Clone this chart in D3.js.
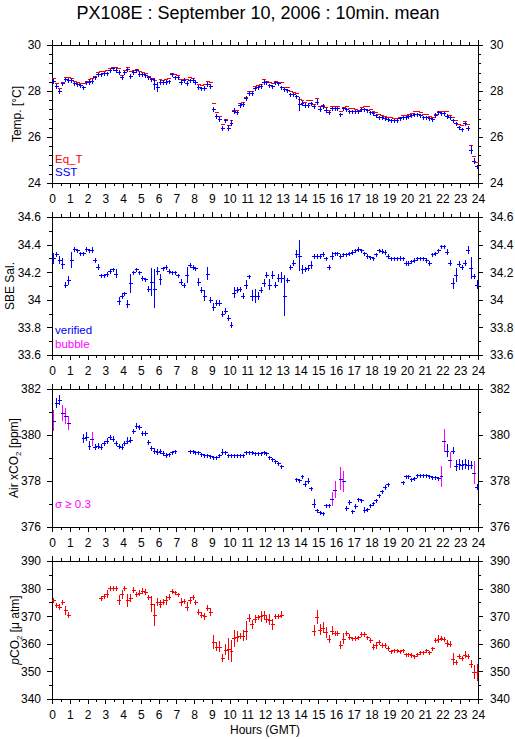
<!DOCTYPE html>
<html>
<head>
<meta charset="utf-8">
<script src="https://cdn.jsdelivr.net/npm/d3@7"></script>
<style>
  body { margin: 0; background: #fff; }
  svg { display: block; }
</style>
</head>
<body>
<div id="chart"></div>
<script>
// 10-minute means, one value per slot (144 slots per day), null = no data
const hourTicks = [0,1,2,3,4,5,6,7,8,9,10,11,12,13,14,15,16,17,18,19,20,21,22,23,24];

const sst = [
  28.45,28.22,28.02,28.34,28.51,28.48,
  28.48,28.34,28.30,28.25,28.16,28.37,
  28.40,28.45,28.60,28.72,28.75,28.77,
  28.80,28.90,28.99,28.93,28.84,28.60,
  28.82,28.95,28.65,28.84,28.90,28.76,
  28.72,28.68,28.60,28.52,28.30,28.18,
  28.40,28.38,28.40,28.42,28.72,28.60,
  28.60,28.38,28.50,28.35,28.48,28.50,
  28.40,28.18,28.12,28.15,28.32,28.20,
  27.22,26.92,26.78,26.39,26.72,26.39,
  26.63,27.15,27.07,27.40,27.44,27.69,
  27.90,27.90,28.12,28.16,28.22,28.41,
  28.37,28.27,28.22,28.38,28.34,28.16,
  28.09,28.05,27.86,27.88,27.79,27.45,
  27.50,27.40,27.40,27.47,27.33,27.54,
  27.22,27.35,27.18,27.07,27.25,27.25,
  27.25,27.00,27.25,27.22,27.15,27.15,
  27.14,27.11,27.21,27.21,27.18,27.10,
  27.04,26.96,26.89,26.85,26.82,26.78,
  26.75,26.72,26.72,26.82,26.86,26.89,
  26.92,26.96,27.00,27.00,26.95,26.89,
  26.89,26.82,26.78,26.96,27.07,27.04,
  27.04,26.92,26.86,26.72,26.60,26.43,
  26.34,26.60,26.39,25.45,24.97,24.72
];
const sstErr = [
  .08,.07,.06,.05,.06,.08,  .08,.05,.05,.05,.05,.08,
  .08,.06,.05,.04,.04,.04,  .04,.04,.04,.05,.06,.08,
  .05,.06,.10,.07,.05,.05,  .05,.05,.06,.06,.25,.22,
  .06,.08,.06,.06,.05,.05,  .05,.08,.05,.08,.06,.05,
  .06,.06,.05,.08,.06,.10,  .10,.08,.08,.10,.08,.12,
  .10,.10,.08,.08,.08,.10,  .10,.08,.06,.06,.08,.05,
  .05,.04,.04,.06,.06,.05,  .05,.04,.05,.04,.04,.30,
  .08,.08,.08,.06,.08,.10,  .08,.08,.06,.06,.06,.06,
  .05,.04,.06,.05,.04,.04,  .04,.03,.04,.04,.04,.04,
  .04,.04,.04,.04,.04,.04,  .04,.04,.04,.04,.04,.04,
  .04,.03,.03,.03,.03,.04,  .04,.04,.04,.08,.04,.04,
  .04,.08,.06,.06,.06,.06,  .04,.03,.10,.20,.10,.05
];
const eqT = [
  28.55,28.34,28.12,28.38,28.63,28.60,
  28.57,28.45,28.41,28.36,28.34,28.45,
  28.51,28.57,28.66,28.83,28.86,28.89,
  28.92,28.98,29.06,29.03,29.02,28.70,
  28.92,29.06,28.86,28.92,28.96,28.86,
  28.83,28.77,28.66,28.55,28.48,28.19,
  28.51,28.48,28.51,28.55,28.80,28.74,
  28.70,28.54,28.54,28.51,28.63,28.55,
  28.41,28.31,28.27,28.31,28.45,28.38,
  27.47,27.07,26.92,26.56,26.78,26.53,
  26.72,27.18,27.18,27.50,27.54,27.76,
  28.00,27.98,28.22,28.27,28.29,28.51,
  28.45,28.37,28.34,28.45,28.41,28.37,
  28.19,28.19,28.02,27.95,27.90,27.64,
  27.59,27.54,27.59,27.62,27.44,27.69,
  27.35,27.40,27.30,27.18,27.35,27.35,
  27.35,27.15,27.30,27.35,27.25,27.25,
  27.21,27.18,27.30,27.33,27.33,27.20,
  27.15,27.08,27.00,26.96,26.92,26.88,
  26.86,26.82,26.82,26.89,26.94,26.96,
  27.00,27.04,27.11,27.12,27.07,26.98,
  26.98,26.92,26.89,27.00,27.15,27.15,
  27.15,27.11,26.96,26.86,26.72,26.57,
  26.53,26.68,26.56,25.66,25.16,24.90
];

const sal = [
  34.30,34.335,34.29,34.26,34.11,34.14,
  34.29,34.37,34.36,34.34,34.34,34.37,
  34.36,34.36,34.29,34.24,34.18,34.18,
  34.19,34.21,34.22,34.19,33.99,34.03,
  34.05,33.97,34.12,34.20,34.22,34.20,
  34.16,34.15,34.08,34.13,34.08,34.21,
  34.15,34.23,34.24,34.21,34.20,34.20,
  34.18,34.13,34.11,34.18,34.25,34.24,
  34.23,34.13,34.07,34.03,34.19,34.00,
  33.95,33.98,33.98,33.90,33.92,33.87,
  33.82,34.05,34.07,34.08,34.03,34.11,
  34.17,34.03,34.03,34.03,34.07,34.12,
  34.18,34.11,34.18,34.11,34.16,34.16,
  34.03,34.14,34.24,34.27,34.33,34.32,
  34.22,34.22,34.23,34.25,34.32,34.32,
  34.32,34.33,34.30,34.24,34.32,34.34,
  34.34,34.32,34.33,34.33,34.34,34.35,
  34.36,34.37,34.36,34.34,34.32,34.31,
  34.30,34.33,34.36,34.355,34.35,34.32,
  34.30,34.30,34.30,34.305,34.30,34.27,
  34.27,34.28,34.29,34.30,34.30,34.30,
  34.29,34.27,34.33,34.34,34.36,34.39,
  34.39,34.35,34.27,34.12,34.18,34.26,
  34.24,34.27,34.36,34.23,34.17,34.11
];
const salErr = [
  .04,.01,.03,.04,.02,.03,  .06,.01,.01,.01,.01,.01,
  .01,.02,.01,.02,.01,.01,  .01,.01,.01,.03,.03,.02,
  .01,.03,.07,.01,.01,.01,  .01,.01,.02,.10,.14,.03,
  .04,.01,.01,.01,.01,.01,  .01,.02,.01,.06,.02,.01,
  .01,.03,.02,.04,.05,.02,  .03,.02,.02,.02,.02,.02,
  .02,.04,.02,.01,.02,.03,  .01,.04,.05,.03,.02,.03,
  .02,.04,.03,.02,.03,.04,  .15,.02,.01,.02,.03,.11,
  .03,.02,.02,.03,.01,.01,  .01,.02,.01,.01,.03,.01,
  .01,.01,.01,.01,.01,.01,  .01,.01,.01,.01,.01,.01,
  .01,.01,.01,.01,.01,.01,  .01,.01,.01,.01,.01,.01,
  .01,.01,.01,.01,.01,.01,  .01,.01,.01,.01,.01,.01,
  .01,.02,.02,.04,.05,.02,  .01,.02,.03,.08,.02,.03
];

const xco2 = [
  380.62,381.39,381.52,380.96,380.84,380.51,
  null,null,null,null,379.86,379.93,
  379.54,379.83,379.50,379.54,379.50,379.64,
  379.76,379.90,379.83,379.64,379.54,379.50,
  379.64,379.76,379.80,380.16,380.41,380.34,
  380.08,380.08,379.71,379.44,379.32,379.28,
  379.32,379.21,379.15,379.18,379.25,379.32,
  null,null,null,null,379.30,379.30,
  379.25,379.25,379.18,379.14,379.11,379.08,
  379.06,379.06,379.11,379.28,379.25,379.15,
  379.15,379.15,379.15,379.15,379.15,379.25,
  379.25,379.25,379.22,379.21,379.21,379.25,
  379.22,379.03,378.96,378.89,378.77,378.67,
  null,null,null,null,378.10,378.05,
  378.20,377.88,378.02,377.69,377.01,376.72,
  376.65,376.62,376.94,376.97,377.23,377.63,
  null,378.10,377.98,376.82,377.08,376.69,
  376.90,377.23,377.18,376.75,376.79,376.94,
  377.04,377.16,377.37,377.56,377.76,377.88,
  null,null,null,null,377.95,378.20,
  378.21,378.10,378.12,378.24,378.24,378.24,
  378.24,378.21,378.17,378.17,378.14,378.20,
  379.76,379.32,378.92,379.32,378.67,378.72,
  378.70,378.74,378.70,378.70,378.36,377.73
];
const xco2Err = [
  .45,.20,.20,.35,.35,.30,  0,0,0,0,.20,.20,
  .20,.30,.10,.12,.10,.12,  .10,.12,.12,.08,.06,.10,
  .08,.15,.12,.12,.12,.10,  .10,.10,.06,.10,.10,.10,
  .08,.08,.06,.04,.05,.04,  0,0,0,0,.02,.02,
  .02,.02,.02,.02,.02,.02,  .02,.02,.03,.10,.05,.02,
  .02,.02,.02,.02,.02,.02,  .02,.02,.02,.02,.02,.02,
  .02,.02,.03,.03,.03,.03,  0,0,0,0,.05,.03,
  .05,.12,.10,.04,.20,.04,  .04,.03,.06,.04,.30,.35,
  0,.50,.45,.08,.10,.04,    .10,.04,.04,.10,.04,.04,
  .03,.04,.04,.05,.06,.05,  0,0,0,0,.05,.07,
  .07,.04,.04,.03,.03,.03,  .03,.03,.03,.03,.03,.45,
  .50,.28,.35,.15,.25,.25,  .22,.20,.20,.18,.50,.12
];
const sigmaLimit = 0.3;

const pco2 = [
  375.7,373.9,373.3,375.1,372.1,370.6,
  null,null,null,null,null,null,
  null,null,null,null,376.6,377.3,
  378.1,380.3,380.2,380.2,376.0,377.9,
  380.3,375.7,376.6,379.6,377.9,378.5,
  379.1,378.7,376.9,374.5,370.3,375.1,
  374.3,375.1,375.7,376.9,379.3,378.6,
  377.9,375.1,375.4,373.5,375.7,376.9,
  375.1,371.5,370.6,369.9,373.0,371.5,
  360.6,359.0,359.0,354.9,357.9,358.2,
  357.3,362.0,362.6,363.0,363.0,364.8,
  369.4,367.0,369.1,369.7,369.9,370.3,
  369.1,368.7,367.0,369.9,369.9,370.6,
  null,null,null,null,null,null,
  null,null,null,null,364.8,369.7,
  365.1,365.8,364.2,361.8,364.8,363.8,
  363.8,359.6,361.8,363.8,362.6,362.0,
  362.2,362.4,363.6,363.6,362.4,361.4,
  359.0,359.4,360.6,359.7,359.7,358.5,
  357.3,357.6,357.6,357.3,357.6,356.3,
  356.3,356.1,355.5,356.3,356.9,356.9,
  357.6,356.9,358.5,361.2,361.8,362.0,
  361.8,360.2,360.0,354.5,353.3,355.4,
  354.9,356.1,355.4,352.7,349.7,349.7
];
const pco2Err = [
  1.0,0.8,1.2,0.8,1.5,0.8,  0,0,0,0,0,0,
  0,0,0,0,0.8,0.8,          1.5,0.6,0.6,0.6,1.8,1.5,
  0.6,2.5,1.5,0.8,1.0,1.0,  1.0,1.0,0.8,3.0,4.0,1.5,
  1.5,1.0,1.5,1.0,0.6,0.6,  0.6,1.5,1.0,1.5,1.2,0.8,
  0.8,1.0,0.8,1.2,1.0,1.5,  2.5,1.5,2.0,1.5,2.0,4.0,
  4.0,3.0,2.0,1.0,2.0,3.5,  1.5,1.5,1.5,0.8,2.0,1.5,
  1.5,2.0,2.0,0.8,0.8,1.2,  0,0,0,0,0,0,
  0,0,0,0,2.0,2.5,          2.0,2.0,2.0,1.5,1.5,0.8,
  0.8,1.5,2.0,1.0,0.8,0.6,  0.6,0.6,0.8,0.8,0.6,0.6,
  1.0,1.2,0.8,0.6,0.6,0.6,  0.5,0.5,0.5,0.5,0.5,0.5,
  0.5,0.5,0.5,0.5,0.5,0.5,  0.5,0.5,0.5,1.0,1.5,0.8,
  0.8,1.2,1.0,2.0,1.0,0.8,  0.8,1.2,0.8,1.5,2.5,3.0
];

const W = 515, H = 739;
const font = "'Liberation Sans', Arial, Helvetica, sans-serif";
const BLUE = "#0000ff", RED = "#ff0000", MAG = "#ff00ff";

const svg = d3.select("#chart").append("svg")
  .attr("width", W).attr("height", H)
  .style("font-family", font);

const x = d3.scaleLinear().domain([0, 24]).range([52, 478]);
const panelH = 138;

svg.append("text")
  .attr("x", 258).attr("y", 19)
  .attr("text-anchor", "middle")
  .attr("font-size", 18)
  .text("PX108E : September 10, 2006 : 10min. mean");

function halfHours() {
  const v = [];
  hourTicks.slice(0, -1).forEach(h => v.push(h + 0.5));
  return v;
}

function panel(top, domain, major, minor, fmt) {
  const y = d3.scaleLinear().domain(domain).range([top + panelH, top]);
  const g = svg.append("g");
  const b = top + panelH;

  const styleAxis = sel => {
    sel.select(".domain").remove();
    sel.selectAll("line").attr("stroke", "#000").attr("shape-rendering", "crispEdges");
    sel.selectAll("text").attr("font-size", 12).attr("font-family", font).attr("fill", "#000");
  };

  // x ticks
  g.append("g").attr("transform", `translate(0,${b})`)
    .call(d3.axisBottom(x).tickValues(hourTicks).tickSize(5).tickPadding(6.5).tickFormat(d3.format("d")))
    .call(styleAxis);
  g.append("g").attr("transform", `translate(0,${b})`)
    .call(d3.axisBottom(x).tickValues(halfHours()).tickSize(3).tickFormat(""))
    .call(styleAxis);
  g.append("g").attr("transform", `translate(0,${top})`)
    .call(d3.axisTop(x).tickValues(hourTicks).tickSize(5).tickFormat(""))
    .call(styleAxis);
  g.append("g").attr("transform", `translate(0,${top})`)
    .call(d3.axisTop(x).tickValues(halfHours()).tickSize(3).tickFormat(""))
    .call(styleAxis);

  // y ticks
  g.append("g").attr("transform", `translate(${x(0)},0)`)
    .call(d3.axisLeft(y).tickValues(major).tickSize(5).tickPadding(6).tickFormat(fmt))
    .call(styleAxis);
  g.append("g").attr("transform", `translate(${x(0)},0)`)
    .call(d3.axisLeft(y).tickValues(minor).tickSize(3).tickFormat(""))
    .call(styleAxis);
  g.append("g").attr("transform", `translate(${x(24)},0)`)
    .call(d3.axisRight(y).tickValues(major).tickSize(5).tickPadding(7).tickFormat(fmt))
    .call(styleAxis);
  g.append("g").attr("transform", `translate(${x(24)},0)`)
    .call(d3.axisRight(y).tickValues(minor).tickSize(3).tickFormat(""))
    .call(styleAxis);

  g.append("rect")
    .attr("x", x(0) + 0.5).attr("y", top + 0.5)
    .attr("width", x(24) - x(0)).attr("height", panelH)
    .attr("fill", "none").attr("stroke", "#000")
    .attr("shape-rendering", "crispEdges");

  return { g, y, top, b };
}

function drawSeries(p, vals, errs, color, errColorFn) {
  const m = p.g.append("g").attr("shape-rendering", "crispEdges");
  vals.forEach((v, i) => {
    if (v == null) return;
    const x0 = Math.round(x(i / 6)), x1 = Math.round(x((i + 1) / 6)) + 1;
    const xc = Math.round(x((i + 0.5) / 6)) + 0.5;
    const yy = Math.round(p.y(v)) + 0.5;
    if (errs) {
      const e = errs[i] || 0;
      let ya = p.y(v + e), yb = p.y(v - e);
      ya = Math.min(ya, yy - 2); yb = Math.max(yb, yy + 2);
      m.append("line")
        .attr("x1", xc).attr("x2", xc).attr("y1", ya).attr("y2", yb)
        .attr("stroke", errColorFn ? errColorFn(e) : color).attr("stroke-width", 1);
    }
    m.append("line")
      .attr("x1", x0).attr("x2", x1).attr("y1", yy).attr("y2", yy)
      .attr("stroke", color).attr("stroke-width", 1);
  });
}

function yLabel(p, parts, bx) {
  const cy = (p.top + p.b) / 2;
  const t = svg.append("text")
    .attr("transform", `translate(${bx},${cy}) rotate(-90)`)
    .attr("text-anchor", "middle")
    .attr("font-size", 12);
  parts.forEach(pt => {
    const s = t.append("tspan").text(pt.t);
    if (pt.sub) s.attr("font-size", 8).attr("dy", 3);
    if (pt.up) s.attr("dy", -3);
    if (pt.it) s.attr("font-style", "italic");
  });
}

function legend(p, yOff, txt, color) {
  p.g.append("text")
    .attr("x", x(0) + 3).attr("y", p.b - yOff)
    .attr("font-size", 11.5).attr("fill", color).text(txt);
}

// Panel 1 : temperatures
const p1 = panel(45, [24, 30], [24, 26, 28, 30],
  [24.4, 24.8, 25.2, 25.6, 26.4, 26.8, 27.2, 27.6, 28.4, 28.8, 29.2, 29.6], d3.format("d"));
drawSeries(p1, eqT, null, RED);
drawSeries(p1, sst, sstErr, BLUE);
legend(p1, 20, "Eq_T", RED);
legend(p1, 7, "SST", BLUE);
yLabel(p1, [{ t: "Temp. [°C]" }], 21);

// Panel 2 : salinity
const p2 = panel(217, [33.6, 34.6], [33.6, 33.8, 34.0, 34.2, 34.4, 34.6],
  [33.7, 33.9, 34.1, 34.3, 34.5], v => String(+v.toFixed(1)));
drawSeries(p2, sal, salErr, BLUE);
legend(p2, 21, "verified", BLUE);
legend(p2, 7, "bubble", MAG);
yLabel(p2, [{ t: "SBE Sal." }], 14);

// Panel 3 : atmospheric xCO2
const p3 = panel(389, [376, 382], [376, 378, 380, 382],
  [377, 379, 381], d3.format("d"));
drawSeries(p3, xco2, xco2Err, BLUE, e => e >= sigmaLimit ? MAG : BLUE);
legend(p3, 19, "σ ≥ 0.3", MAG);
yLabel(p3, [{ t: "Air xCO" }, { t: "2", sub: true }, { t: " [ppm]", up: true }], 18);

// Panel 4 : seawater pCO2
const p4 = panel(561, [340, 390], [340, 350, 360, 370, 380, 390],
  [345, 355, 365, 375, 385], d3.format("d"));
drawSeries(p4, pco2, pco2Err, RED);
yLabel(p4, [{ t: "p", it: true }, { t: "CO" }, { t: "2", sub: true }, { t: " [μ atm]", up: true }], 19);

svg.append("text")
  .attr("x", 265).attr("y", 734)
  .attr("text-anchor", "middle")
  .attr("font-size", 12)
  .text("Hours (GMT)");
</script>
</body>
</html>
